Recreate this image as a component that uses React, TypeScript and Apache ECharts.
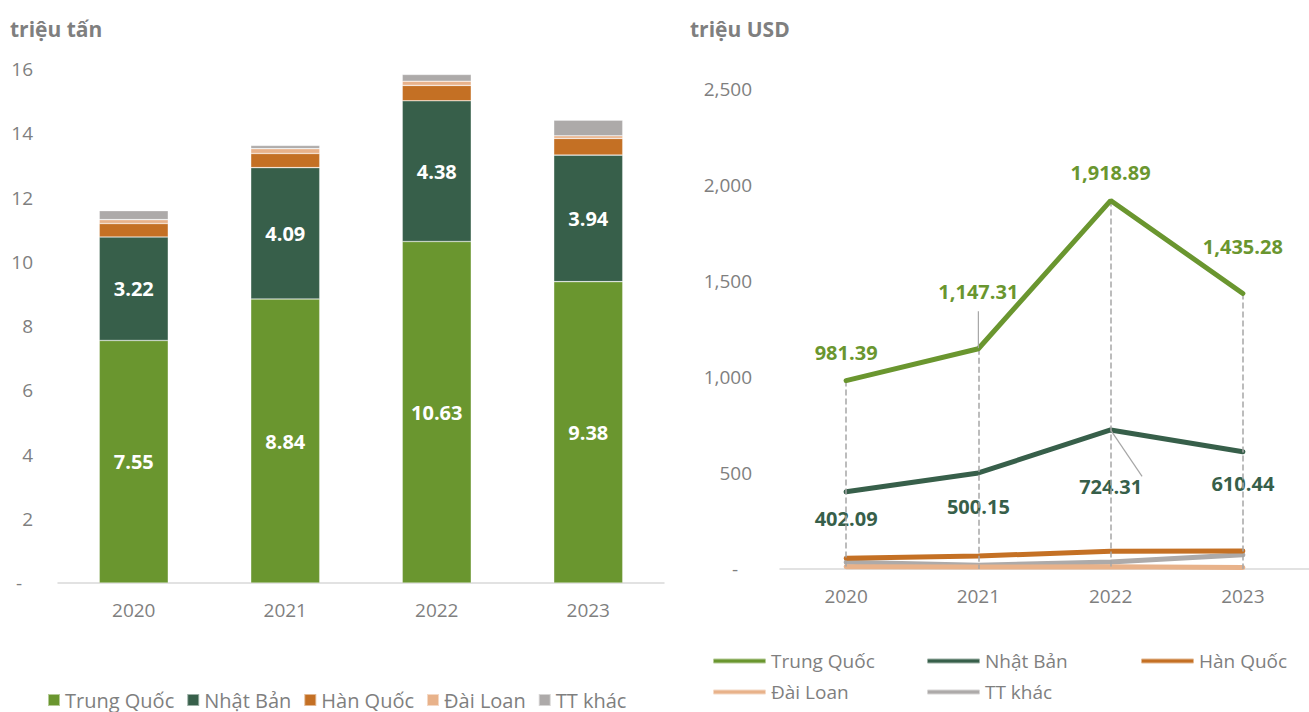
import React, { useEffect, useRef } from "react";
import * as echarts from "echarts";

const years = ["2020", "2021", "2022", "2023"];
const countries = ["Trung Quốc", "Nhật Bản", "Hàn Quốc", "Đài Loan", "TT khác"];
const colors = ["#6A962F", "#375F4A", "#C47024", "#E8B28A", "#ADAAA9"];

// triệu tấn
const volTQ = [7.55, 8.84, 10.63, 9.38];
const volNB = [3.22, 4.09, 4.38, 3.94];
const volHQ = [0.42, 0.44, 0.48, 0.52];
const volDL = [0.12, 0.15, 0.13, 0.08];
const volKhac = [0.28, 0.1, 0.21, 0.49];

// triệu USD
const valTQ = [981.39, 1147.31, 1918.89, 1435.28];
const valNB = [402.09, 500.15, 724.31, 610.44];
const valHQ = [56, 68, 92, 94];
const valDL = [12, 10, 12, 8];
const valKhac = [35, 19, 37, 74];

const leftTicks = { min: 0, max: 16, interval: 2 };
const rightTicks = { min: 0, max: 2500, interval: 500 };

// label layout (distances in px)
const tqLabelDist = [18, 47, 18, 36];
const nbLabelDist = [16, 23, 46, 21];
const tqLeader = [false, true, false, false];
const nbLeader = [false, false, true, false];

const FONT = "Open Sans";
const GREY = "#7f7f7f";

export default function App() {
  const ref = useRef<HTMLDivElement>(null);
  useEffect(() => {
    if (!ref.current) return;
    const chart = echarts.init(ref.current, undefined, { renderer: "svg" });
    const volumes = [volTQ, volNB, volHQ, volDL, volKhac];
    const values = [valTQ, valNB, valHQ, valDL, valKhac];
    const fmt2 = (v: number) =>
      v.toLocaleString("en-US", { minimumFractionDigits: 2, maximumFractionDigits: 2 });

    const barSeries = countries.map((name, i) => ({
      name,
      type: "bar",
      stack: "vol",
      xAxisIndex: 0,
      yAxisIndex: 0,
      barWidth: 69,
      data: volumes[i],
      itemStyle: { color: colors[i], borderColor: "rgba(255,255,255,0.5)", borderWidth: 0.6 },
      label: {
        show: i < 2,
        position: "inside",
        color: "#fff",
        fontFamily: FONT,
        fontWeight: "bold",
        fontSize: 20,
        formatter: (p: any) => fmt2(p.value),
      },
    }));

    const lineSeries = countries.map((name, i) => {
      const base: any = {
        name,
        type: "line",
        xAxisIndex: 1,
        yAxisIndex: 1,
        symbol: "circle",
        symbolSize: 1,
        showSymbol: true,
        lineStyle: { color: colors[i], width: 5, cap: "round" },
        itemStyle: { color: colors[i] },
        z: 5 - i,
        data: values[i],
      };
      if (i === 0 || i === 1) {
        const dists = i === 0 ? tqLabelDist : nbLabelDist;
        const leaders = i === 0 ? tqLeader : nbLeader;
        base.data = values[i].map((v, k) => ({
          value: v,
          label: { distance: dists[k] },
          labelLine: { show: leaders[k], lineStyle: { color: "#A6A6A6", width: 1.2 } },
        }));
        base.label = {
          show: true,
          position: i === 0 ? "top" : "bottom",
          color: colors[i],
          fontFamily: FONT,
          fontWeight: "bold",
          fontSize: 20,
          formatter: (p: any) => fmt2(p.value),
        };
      }
      if (i === 0) {
        base.markLine = {
          silent: true,
          symbol: "none",
          label: { show: false },
          lineStyle: { color: "#A6A6A6", type: "dashed", width: 1.5 },
          data: years.map((y, k) => [
            { coord: [y, valTQ[k]] },
            { coord: [y, 0] },
          ]),
        };
      }
      return base;
    });

    const legendText = { color: GREY, fontFamily: FONT, fontSize: 20 };
    const rightLegendText = { color: GREY, fontFamily: FONT, fontSize: 19, lineHeight: 20 };

    chart.setOption({
      animation: false,
      textStyle: { fontFamily: FONT },
      title: [
        { text: "triệu tấn", left: 5, top: 13, textStyle: { color: GREY, fontFamily: FONT, fontWeight: "bold", fontSize: 21 } },
        { text: "triệu USD", left: 685, top: 13, textStyle: { color: GREY, fontFamily: FONT, fontWeight: "bold", fontSize: 21 } },
      ],
      legend: [
        {
          data: countries.map((n) => ({ name: n, icon: "rect" })),
          left: 42,
          top: 685,
          itemWidth: 12,
          itemHeight: 12,
          itemGap: 12,
          selectedMode: false,
          textStyle: legendText,
        },
        {
          data: [{ name: "Trung Quốc", icon: "roundRect" }, { name: "Đài Loan", icon: "roundRect" }],
          orient: "vertical",
          left: 707,
          top: 646,
          itemWidth: 53,
          itemHeight: 5,
          itemGap: 11,
          selectedMode: false,
          textStyle: rightLegendText,
        },
        {
          data: [{ name: "Nhật Bản", icon: "roundRect" }, { name: "TT khác", icon: "roundRect" }],
          orient: "vertical",
          left: 921,
          top: 646,
          itemWidth: 53,
          itemHeight: 5,
          itemGap: 11,
          selectedMode: false,
          textStyle: rightLegendText,
        },
        {
          data: [{ name: "Hàn Quốc", icon: "roundRect" }],
          orient: "vertical",
          left: 1135,
          top: 646,
          itemWidth: 53,
          itemHeight: 5,
          selectedMode: false,
          textStyle: rightLegendText,
        },
      ],
      grid: [
        { left: 58, top: 69, width: 606, height: 514 },
        { left: 780, top: 89, width: 540, height: 480 },
      ],
      xAxis: [0, 1].map((gi) => ({
        type: "category",
        gridIndex: gi,
        data: years,
        axisLine: { lineStyle: { color: "#D9D9D9", width: 1.5 } },
        axisTick: { show: false },
        axisLabel: { color: GREY, fontFamily: FONT, fontSize: 19, margin: 17 },
      })),
      yAxis: [
        {
          type: "value",
          gridIndex: 0,
          ...leftTicks,
          splitLine: { show: false },
          axisLine: { show: false },
          axisTick: { show: false },
          axisLabel: {
            color: GREY,
            fontFamily: FONT,
            fontSize: 19,
            margin: 25,
            formatter: (v: number) => (v === 0 ? "{d|-}" : String(v)),
            rich: { d: { color: GREY, fontFamily: FONT, fontSize: 19, padding: [0, 11, 0, 0] } },
          },
        },
        {
          type: "value",
          gridIndex: 1,
          ...rightTicks,
          splitLine: { show: false },
          axisLine: { show: false },
          axisTick: { show: false },
          axisLabel: {
            color: GREY,
            fontFamily: FONT,
            fontSize: 19,
            margin: 28,
            formatter: (v: number) => (v === 0 ? "{d|-}" : v.toLocaleString("en-US")),
            rich: { d: { color: GREY, fontFamily: FONT, fontSize: 19, padding: [0, 14, 0, 0] } },
          },
        },
      ],
      series: [...barSeries, ...lineSeries],
    });
    return () => chart.dispose();
  }, []);
  return (
    <div
      ref={ref}
      style={{ position: "absolute", left: 0, top: 0, width: 1309, height: 712, background: "#fff" }}
    />
  );
}
